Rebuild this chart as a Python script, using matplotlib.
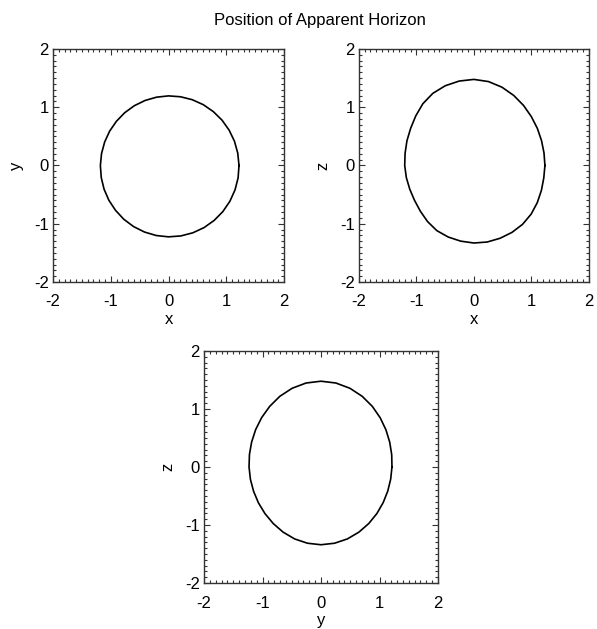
#!/usr/bin/env python3
# horizon_slices.py

import numpy as np
import matplotlib

matplotlib.use("Agg")
import matplotlib.pyplot as plt
from matplotlib.ticker import MultipleLocator

plt.rcParams["font.family"] = ["Liberation Sans", "DejaVu Sans"]
plt.rcParams["axes.unicode_minus"] = False

# Horizon radius (from the origin) sampled every 10 degrees
angles_deg = [0, 10, 20, 30, 40, 50, 60, 70, 80, 90, 100, 110,
              120, 130, 140, 150, 160, 170, 180, 190, 200, 210, 220, 230,
              240, 250, 260, 270, 280, 290, 300, 310, 320, 330, 340, 350]

# x-y plane
r_xy = [1.220, 1.217, 1.215, 1.212, 1.210, 1.207, 1.205, 1.202, 1.198, 1.195,
        1.191, 1.188, 1.185, 1.182, 1.179, 1.178, 1.177, 1.178, 1.180, 1.183,
        1.188, 1.193, 1.198, 1.205, 1.211, 1.216, 1.221, 1.225, 1.228, 1.230,
        1.231, 1.230, 1.229, 1.227, 1.225, 1.223]

# x-z plane
r_xz = [1.236, 1.239, 1.252, 1.275, 1.305, 1.345, 1.388, 1.430, 1.463, 1.478,
        1.472, 1.457, 1.430, 1.383, 1.322, 1.272, 1.240, 1.216, 1.204, 1.194,
        1.188, 1.194, 1.218, 1.256, 1.291, 1.307, 1.319, 1.331, 1.334, 1.330,
        1.326, 1.318, 1.300, 1.274, 1.250, 1.235]

# y-z plane
r_yz = [1.213, 1.227, 1.250, 1.282, 1.321, 1.365, 1.408, 1.445, 1.471, 1.480,
        1.471, 1.445, 1.408, 1.365, 1.325, 1.290, 1.262, 1.242, 1.230, 1.225,
        1.226, 1.235, 1.250, 1.271, 1.296, 1.319, 1.334, 1.340, 1.334, 1.319,
        1.296, 1.271, 1.247, 1.227, 1.214, 1.209]


def plot(ax, radius, xlabel, ylabel):
    th = np.radians(angles_deg + [angles_deg[0]])
    r = np.array(radius + [radius[0]])
    ax.plot(r * np.cos(th), r * np.sin(th), color="black", lw=1.2)

    ax.set_xlim(-2, 2)
    ax.set_ylim(-2, 2)
    ax.xaxis.set_major_locator(MultipleLocator(1))
    ax.yaxis.set_major_locator(MultipleLocator(1))
    ax.xaxis.set_minor_locator(MultipleLocator(0.1))
    ax.yaxis.set_minor_locator(MultipleLocator(0.1))
    ax.tick_params(which="both", direction="in", top=True, right=True,
                   width=0.8, colors="#333333", labelcolor="black")
    ax.tick_params(which="major", length=4)
    ax.tick_params(which="minor", length=2)
    ax.tick_params(axis="x", which="major", pad=9, labelsize=12)
    ax.tick_params(axis="y", which="major", pad=3, labelsize=12)
    for s in ax.spines.values():
        s.set_color("#333333")
        s.set_linewidth(1.0)

    ax.set_xlabel(xlabel, fontsize=12, labelpad=2)
    ax.set_ylabel(ylabel, fontsize=12, labelpad=7)


def main():
    fig = plt.figure(figsize=(5.97, 6.29), dpi=100)

    ax1 = fig.add_axes([0.0888, 0.5517, 0.3870, 0.3704])
    plot(ax1, r_xy, "x", "y")

    ax2 = fig.add_axes([0.6013, 0.5517, 0.3850, 0.3704])
    plot(ax2, r_xz, "x", "z")

    ax3 = fig.add_axes([0.3417, 0.0731, 0.3920, 0.3688])
    plot(ax3, r_yz, "y", "z")

    fig.text(0.536, 0.968, "Position of Apparent Horizon", ha="center",
             va="center", fontsize=12)
    fig.savefig("out.png", dpi=100)


if __name__ == "__main__":
    main()
